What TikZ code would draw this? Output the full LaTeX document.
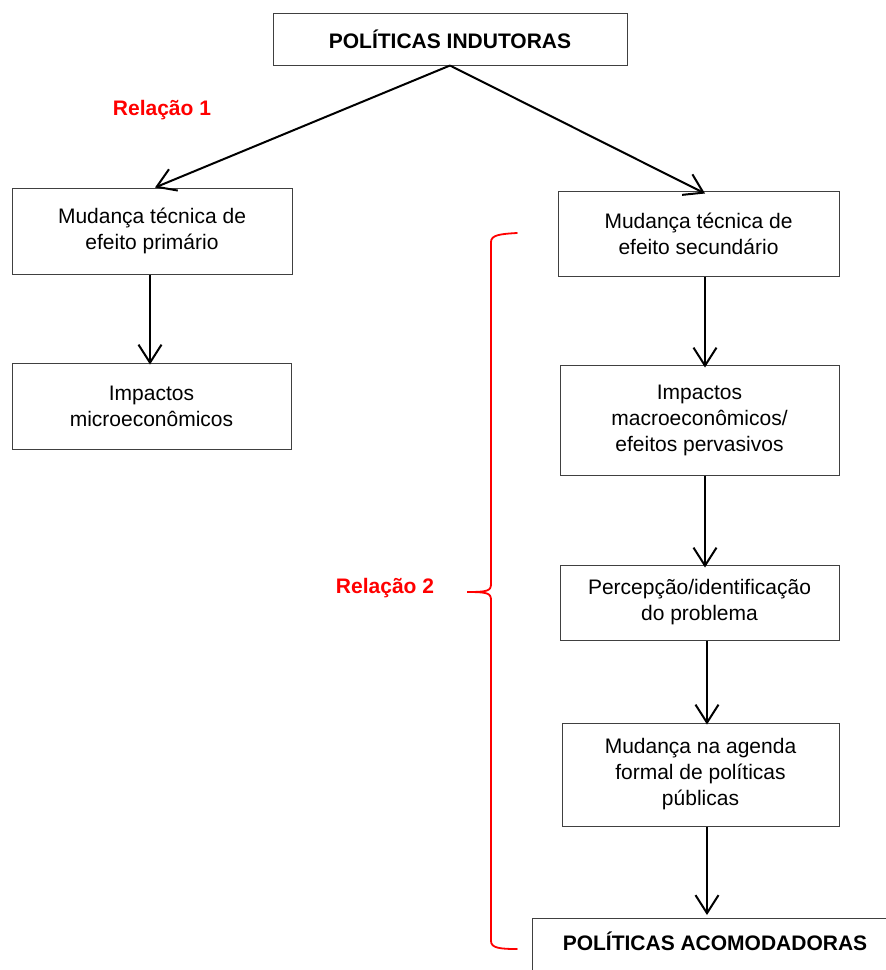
\documentclass[tikz,border=0pt]{standalone}
\usepackage{fontspec}
\setmainfont{Liberation Sans}
\usetikzlibrary{arrows.meta}
\begin{document}
\begin{tikzpicture}[x=1pt,y=-1pt,
  box/.style={draw=black!75, line width=1pt, inner sep=0pt, align=center,
    font=\fontsize{21}{26}\selectfont},
  titlebox/.style={box, font=\bfseries\fontsize{21}{26}\selectfont},
  arr/.style={-{Straight Barb[length=18pt,width=23pt,line width=2pt]}, line width=2pt},
  rel/.style={text=red, font=\bfseries\fontsize{21}{26}\selectfont},
  brace/.style={draw=red, line width=1.8pt, line cap=round}]
\useasboundingbox (0,0) rectangle (886,970);
\clip (0,0) rectangle (886,970);

\node[titlebox, minimum width=354pt, minimum height=52pt] (top) at (450,39) {POLÍTICAS INDUTORAS};

\node[box, minimum width=280pt, minimum height=86pt] (L1) at (152,231) {Mudança técnica de\\efeito primário};
\node[box, minimum width=279pt, minimum height=86pt] (L2) at (151.5,406) {Impactos\\microeconômicos};

\node[box, minimum width=281pt, minimum height=85pt] (R1) at (698.5,233.5) {Mudança técnica de\\efeito secundário};
\node[box, minimum width=279pt, minimum height=110pt] (R2) at (699.5,420) {Impactos\\macroeconômicos/\\efeitos pervasivos};
\node[box, minimum width=279pt, minimum height=75pt] (R3) at (699.5,602.5) {Percepção/identificação\\do problema};
\node[box, minimum width=277pt, minimum height=103pt] (R4) at (700.5,774.5) {Mudança na agenda\\formal de políticas\\públicas};

\draw[draw=black!75, line width=1pt] (532,990) -- (532,918) -- (900,918);
\node[font=\bfseries\fontsize{21}{26}\selectfont] (bot) at (715,941) {POLÍTICAS ACOMODADORAS};
\coordinate (botin) at (707,915);

\draw[arr] (top.south) -- ([xshift=3pt]L1.north);
\draw[arr] (top.south) -- ([xshift=6.5pt,yshift=-3pt]R1.north);
\draw[arr] ([xshift=-2pt]L1.south) -- ([xshift=-1.5pt,yshift=-2pt]L2.north);
\draw[arr] ([xshift=6.5pt]R1.south) -- ([xshift=5.5pt,yshift=-3pt]R2.north);
\draw[arr] ([xshift=5.5pt]R2.south) -- ([xshift=5.5pt,yshift=-3pt]R3.north);
\draw[arr] ([xshift=7.5pt]R3.south) -- ([xshift=6.5pt,yshift=-2pt]R4.north);
\draw[arr] ([xshift=6.5pt]R4.south) -- (botin);

\node[rel] (rel1) at (162,110) {Relação 1};
\node[rel] (rel2) at (385,588) {Relação 2};

\draw[brace] (517,233) .. controls (500,234) and (491,235) .. (491,242)
  -- (491,584) .. controls (491,591) and (487,592) .. (467,592)
  .. controls (487,592) and (491,593) .. (491,600)
  -- (491,941) .. controls (491,948) and (500,949) .. (517,949);
\end{tikzpicture}
\end{document}
